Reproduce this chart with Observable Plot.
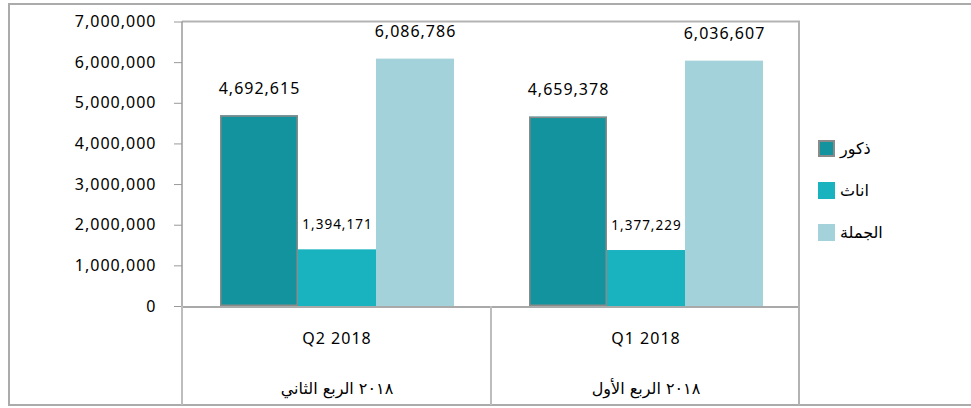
<!DOCTYPE html>
<html><head><meta charset="utf-8">
<script src="https://cdn.jsdelivr.net/npm/d3@7"></script>
<script src="https://cdn.jsdelivr.net/npm/@observablehq/plot@0.6"></script>
<style>
body{margin:0;background:#fff;overflow:hidden}
#wrap{position:relative;width:971px;height:408px;overflow:hidden;font-family:"Noto Sans",sans-serif}
#border{position:absolute;left:8px;top:3px;width:990px;height:403px;border:2px solid #ababab;box-sizing:border-box}
#chart{position:absolute;left:0;top:0}
#legend{position:absolute;left:818px;top:140px}
.item{display:flex;align-items:center;height:17px;margin-bottom:25px;font-size:16px;color:#000}
.sw{width:17px;height:17px;box-sizing:border-box;margin-right:5px}
.item span{font-family:"DejaVu Sans",sans-serif;direction:rtl}
</style></head><body>
<div id="wrap"><div id="border"></div><div id="chart"></div><div id="legend"></div></div>
<script>
// ---- data ----
const quarters = ["Q2 2018", "Q1 2018"];
const quarterLabelsAr = ["٢٠١٨ الربع الثاني", "٢٠١٨ الربع الأول"];
const series = ["ذكور", "اناث", "الجملة"];
const males = [4692615, 4659378];
const females = [1394171, 1377229];
const totals = [6086786, 6036607];
const yTicks = [0, 1000000, 2000000, 3000000, 4000000, 5000000, 6000000, 7000000];
const colors = ["#13939d", "#19b2bf", "#a3d2da"];

const rows = quarters.flatMap((q, i) => [
  {quarter: q, series: series[0], value: males[i]},
  {quarter: q, series: series[1], value: females[i]},
  {quarter: q, series: series[2], value: totals[i]}
]);
const fmt = d3.format(",");

const big = rows.filter(d => d.series !== series[1]);
const small = rows.filter(d => d.series === series[1]);

const chart = Plot.plot({
  width: 801,
  height: 408,
  marginLeft: 181,
  marginRight: 1,
  marginTop: 21.5,
  marginBottom: 102,
  style: {fontFamily: "'Noto Sans', sans-serif", fontSize: "16px", color: "#000", background: "transparent", letterSpacing: "1px"},
  fx: {domain: quarters, padding: 0, axis: null, label: null},
  x: {domain: series, paddingInner: 0, paddingOuter: 0.48, axis: null},
  y: {domain: [0, 7000000], axis: null},
  color: {domain: series, range: colors},
  marks: [
    Plot.axisY({ticks: yTicks, tickFormat: fmt, tickSize: 8, tickPadding: 18, label: null, stroke: "#999", fontSize: 16}),
    Plot.barY(rows, {fx: "quarter", x: "series", y: "value", fill: "series"}),
    Plot.barY(rows.filter(d => d.series === series[0]), {fx: "quarter", x: "series", y: "value", fill: "none", stroke: "#8a8a8a", strokeWidth: 1.5, inset: 0.75}),
    Plot.text(big, {fx: "quarter", x: "series", y: "value", text: d => fmt(d.value), dy: -27, fontSize: 16, fill: "#000"}),
    Plot.text(small, {fx: "quarter", x: "series", y: "value", text: d => fmt(d.value), dy: -25, fontSize: 13.5, fill: "#000"}),
    Plot.axisFx({anchor: "bottom", tickSize: 0, tickPadding: 26, label: null, fontSize: 16}),
    Plot.axisFx({anchor: "bottom", tickSize: 0, tickPadding: 76, label: null, fontSize: 16,
      tickFormat: q => quarterLabelsAr[quarters.indexOf(q)]})
  ]
});
d3.select(chart).selectAll("text")
  .filter(function () { return /[\u0600-\u06FF]/.test(this.textContent); })
  .style("letter-spacing", "0").style("font-family", "'DejaVu Sans', sans-serif").attr("direction", "rtl");

// frame and category-table lines, positioned from Plot's own scales
const fxS = chart.scale("fx"), yS = chart.scale("y");
const fxLeft = q => fxS.apply ? fxS.apply(q) : fxS.range[0] + quarters.indexOf(q) * fxS.step;
const edges = quarters.map(fxLeft);
const xEnd = Math.max(...fxS.range);
const yTop = yS.apply(7000000), yBase = yS.apply(0), yBottom = 405;
const g = d3.select(chart).append("g").attr("class", "table-lines");
const seg = (x1, y1, x2, y2, c, w) => g.append("line")
  .attr("x1", x1).attr("y1", y1).attr("x2", x2).attr("y2", y2)
  .attr("stroke", c).attr("stroke-width", w);
seg(edges[0], yTop, xEnd, yTop, "#b3b3b3", 2);
seg(edges[0], yBase + 1, xEnd, yBase + 1, "#a9a9a9", 2);
seg(edges[0], yTop, edges[0], yBase, "#9a9a9a", 1.5);
edges.forEach(x => seg(x, yBase, x, yBottom, "#bdbdbd", 2));
seg(xEnd - 1, yTop, xEnd - 1, yBottom, "#b3b3b3", 2);

document.getElementById("chart").appendChild(chart);

const legend = d3.select("#legend");
series.forEach((s, i) => {
  const it = legend.append("div").attr("class", "item");
  it.append("div").attr("class", "sw").style("background", colors[i])
    .style("border", i === 0 ? "2px solid #8a8a8a" : "none");
  it.append("span").text(s);
});
</script>
</body></html>
